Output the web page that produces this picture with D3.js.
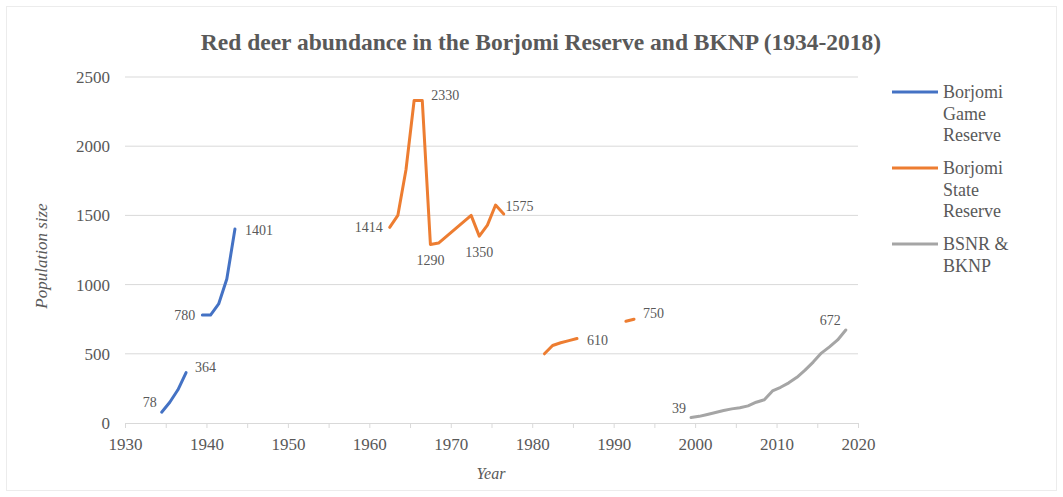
<!DOCTYPE html>
<html>
<head>
<meta charset="utf-8">
<script src="https://cdn.jsdelivr.net/npm/d3@7"></script>
<style>
    body { margin: 0; background: #fff; }
    svg text { font-family: "Liberation Serif", "DejaVu Serif", serif; }
</style>
</head>
<body>
<div class="chart-holder"></div>
<script>
(function () {

    'use strict';

    // data
    var gameYears = [[1934, 1935, 1936, 1937], [1939, 1940, 1941, 1942, 1943]];
    var gameValues = [[78, 150, 240, 364], [780, 780, 860, 1040, 1401]];

    var stateYears = [
        [1962, 1963, 1964, 1965, 1966, 1967, 1968, 1972, 1973, 1974, 1975, 1976],
        [1981, 1982, 1983, 1984, 1985],
        [1991, 1992]
    ];
    var stateValues = [
        [1414, 1500, 1830, 2330, 2330, 1290, 1300, 1500, 1350, 1430, 1575, 1510],
        [500, 560, 580, 595, 610],
        [735, 750]
    ];

    var bknpYears = [[1999, 2000, 2001, 2002, 2003, 2004, 2005, 2006, 2007, 2008,
        2009, 2010, 2011, 2012, 2013, 2014, 2015, 2016, 2017, 2018]];
    var bknpValues = [[39, 48, 62, 76, 90, 102, 110, 124, 150, 168,
        232, 258, 290, 330, 382, 440, 505, 550, 600, 672]];

    var seriesNames = ['Borjomi Game Reserve', 'Borjomi State Reserve', 'BSNR & BKNP'];
    var legendLines = [['Borjomi', 'Game', 'Reserve'], ['Borjomi', 'State', 'Reserve'], ['BSNR &', 'BKNP']];
    var seriesColors = ['#4472C4', '#ED7D31', '#A5A5A5'];

    // value labels: [year, value]
    var pointLabels = [
        [1934, 78], [1937, 364], [1939, 780], [1943, 1401],
        [1962, 1414], [1966, 2330], [1967, 1290], [1973, 1350], [1975, 1575],
        [1985, 610], [1992, 750],
        [1999, 39], [2018, 672]
    ];
    var labelPlace = ['upLeft', 'upRight', 'left', 'right',
        'left', 'upRight', 'below', 'below', 'right',
        'right', 'upRight', 'upLeft', 'upLeft'];

    var yTicks = [0, 500, 1000, 1500, 2000, 2500];
    var xTicks = [1930, 1940, 1950, 1960, 1970, 1980, 1990, 2000, 2010, 2020];

    var width = 1063;
    var height = 497;
    var textColor = '#595959';
    var serif = '"Liberation Serif", "DejaVu Serif", serif';

    var svg = d3.select('.chart-holder')
        .append('svg')
        .attr('width', width)
        .attr('height', height);

    svg.append('rect')
        .attr('x', 6.5).attr('y', 6.5)
        .attr('width', width - 13).attr('height', height - 13)
        .attr('fill', '#fff')
        .attr('stroke', '#ececec');

    var x = d3.scaleLinear().domain([1930, 2020]).range([125, 858]);
    var y = d3.scaleLinear().domain([0, 2500]).range([423, 77]);

    // yearly counts plotted at mid-year
    var xYear = function (yr) {
        return x(yr + 0.5);
    };

    // grid
    svg.append('g')
        .selectAll('line')
        .data(yTicks.slice(1))
        .enter()
        .append('line')
        .attr('x1', x(1930)).attr('x2', x(2020))
        .attr('y1', function (d) { return y(d); })
        .attr('y2', function (d) { return y(d); })
        .attr('stroke', '#d9d9d9')
        .attr('stroke-width', 1);

    // x axis
    var xAxis = d3.axisBottom(x)
        .tickValues(d3.range(1930, 2021, 5))
        .tickSize(5)
        .tickFormat(function (d) { return xTicks.indexOf(d) > -1 ? d : ''; });

    var gx = svg.append('g')
        .attr('transform', 'translate(0,' + y(0) + ')')
        .call(xAxis)
        .attr('font-family', serif);
    gx.select('.domain').attr('stroke', '#d9d9d9');
    gx.selectAll('.tick line').attr('stroke', '#d9d9d9');
    gx.selectAll('.tick text')
        .attr('y', 15)
        .attr('fill', textColor)
        .style('font-size', '17px')
        .style('font-family', serif);

    // y axis
    var yAxis = d3.axisLeft(y)
        .tickValues(yTicks)
        .tickSize(0)
        .tickPadding(15)
        .tickFormat(d3.format('d'));
    var gy = svg.append('g')
        .attr('transform', 'translate(' + x(1930) + ',0)')
        .call(yAxis)
        .attr('font-family', serif);
    gy.select('.domain').remove();
    gy.selectAll('.tick text')
        .attr('fill', textColor)
        .style('font-size', '17px')
        .style('font-family', serif);

    // series lines
    var line = d3.line()
        .x(function (d) { return xYear(d[0]); })
        .y(function (d) { return y(d[1]); });

    var allYears = [gameYears, stateYears, bknpYears];
    var allValues = [gameValues, stateValues, bknpValues];

    allYears.forEach(function (segments, s) {
        segments.forEach(function (years, k) {
            var pts = years.map(function (yr, i) {
                return [yr, allValues[s][k][i]];
            });
            svg.append('path')
                .datum(pts)
                .attr('d', line)
                .attr('fill', 'none')
                .attr('stroke', seriesColors[s])
                .attr('stroke-width', 3)
                .attr('stroke-linejoin', 'round')
                .attr('stroke-linecap', 'round');
        });
    });

    // point labels, offset [dx, dy, anchor] per placement
    var placeOffsets = {
        left: [-7, 0, 'end'],
        upLeft: [-5, -10, 'end'],
        right: [10, 1, 'start'],
        upRight: [9, -6, 'start'],
        below: [0, 16, 'middle']
    };

    svg.append('g')
        .selectAll('text')
        .data(pointLabels)
        .enter()
        .append('text')
        .text(function (d) { return d[1]; })
        .attr('x', function (d, i) { return xYear(d[0]) + placeOffsets[labelPlace[i]][0]; })
        .attr('y', function (d, i) { return y(d[1]) + placeOffsets[labelPlace[i]][1] + 5; })
        .attr('text-anchor', function (d, i) { return placeOffsets[labelPlace[i]][2]; })
        .attr('fill', textColor)
        .style('font-family', serif)
        .style('font-size', '14px');

    // titles
    svg.append('text')
        .text('Red deer abundance in the Borjomi Reserve and BKNP (1934-2018)')
        .attr('x', 541).attr('y', 50)
        .attr('text-anchor', 'middle')
        .attr('fill', textColor)
        .style('font-family', serif)
        .style('font-size', '23.5px')
        .style('font-weight', 'bold');

    svg.append('text')
        .text('Year')
        .attr('x', 491).attr('y', 479)
        .attr('text-anchor', 'middle')
        .attr('fill', textColor)
        .style('font-family', serif)
        .style('font-size', '16px')
        .style('font-style', 'italic');

    svg.append('text')
        .text('Population size')
        .attr('transform', 'translate(47,256) rotate(-90)')
        .attr('text-anchor', 'middle')
        .attr('fill', textColor)
        .style('font-family', serif)
        .style('font-size', '17px')
        .style('font-style', 'italic');

    // legend
    var legendY = [92, 168, 244];
    var legend = svg.append('g')
        .selectAll('g')
        .data(seriesNames)
        .enter()
        .append('g')
        .attr('transform', function (d, i) { return 'translate(892,' + legendY[i] + ')'; });

    legend.append('line')
        .attr('x1', 0).attr('x2', 46)
        .attr('stroke', function (d, i) { return seriesColors[i]; })
        .attr('stroke-width', 3);

    legend.append('text')
        .attr('x', 51)
        .attr('fill', textColor)
        .style('font-family', serif)
        .style('font-size', '18px')
        .selectAll('tspan')
        .data(function (d, i) { return legendLines[i]; })
        .enter()
        .append('tspan')
        .attr('x', 51)
        .attr('dy', function (d, j) { return j === 0 ? 6 : 21.7; })
        .text(function (d) { return d; });

}());
</script>
</body>
</html>
